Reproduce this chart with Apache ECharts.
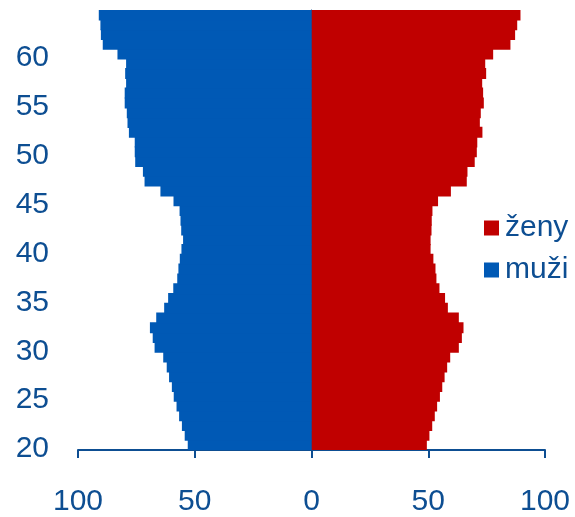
<!DOCTYPE html>
<html><head><meta charset="utf-8">
<script src="https://cdn.jsdelivr.net/npm/echarts@6/dist/echarts.min.js"></script>
<style>html,body{margin:0;padding:0;background:#fff}#c{width:575px;height:517px}</style>
</head><body><div id="c"></div>
<script>
var ages = [20,21,22,23,24,25,26,27,28,29,30,31,32,33,34,35,36,37,38,39,40,41,42,43,44,45,46,47,48,49,50,51,52,53,54,55,56,57,58,59,60,61,62,63,64];
var muzi = [53.0,54.3,55.5,56.7,57.8,59.0,59.8,61.0,62.0,63.5,67.2,68.0,69.2,66.5,63.1,61.4,59.2,57.5,57.0,56.4,55.7,55.0,55.8,56.1,56.5,59.1,64.7,71.5,72.2,75.5,75.7,75.7,78.2,78.8,79.1,80.0,80.0,79.4,79.8,79.4,83.1,89.4,90.2,90.4,91.1];
var zeny = [49.4,50.5,51.7,52.8,53.8,55.0,56.0,57.0,58.1,59.4,63.1,64.4,65.1,63.1,58.4,57.2,54.8,53.5,53.1,52.2,51.0,51.0,51.4,51.5,51.8,54.2,59.7,66.5,66.8,69.9,70.8,71.0,73.2,72.1,72.5,73.8,73.5,73.1,74.8,74.4,77.8,85.2,87.2,88.1,89.5];
var seriesNames = ['ženy','muži'];
var xTicks = {min:-100, max:100, step:50};

var txt = '#0d4e92';
var red = '#c00000', blue = '#0059b5';
var chart = echarts.init(document.getElementById('c'), null, {renderer:'canvas'});
chart.setOption({
  animation:false,
  textStyle:{fontFamily:'Liberation Sans, Arial, sans-serif'},
  grid:{left:78, right:30, top:10, bottom:60, containLabel:false},
  legend:{
    data:seriesNames, orient:'vertical', left:479, top:208,
    itemWidth:15, itemHeight:15, itemGap:12, icon:'rect',
    textStyle:{color:txt, fontSize:30, padding:[0,0,0,1], fontFamily:'Liberation Sans, Arial, sans-serif'}
  },
  xAxis:{
    type:'value', min:xTicks.min, max:xTicks.max, interval:xTicks.step,
    splitLine:{show:false},
    axisLine:{show:true, lineStyle:{color:txt, width:2}},
    axisTick:{show:true, length:8, lineStyle:{color:txt, width:2}},
    axisLabel:{color:txt, fontSize:30, margin:37, formatter:function(v){return Math.abs(v);}}
  },
  yAxis:{
    type:'category', data:ages,
    axisLine:{show:true, onZero:true, lineStyle:{color:txt, width:1}},
    axisTick:{show:false},
    axisLabel:{color:txt, fontSize:30, margin:29, verticalAlign:'top', lineHeight:8,
      interval:function(i,v){return Number(v)%5===0;}}
  },
  series:[
    {name:'ženy', type:'bar', stack:'t', data:zeny, barWidth:11,
     itemStyle:{color:red}},
    {name:'muži', type:'bar', stack:'t', data:muzi.map(function(v){return -v;}), barWidth:11,
     itemStyle:{color:blue}}
  ]
});
</script></body></html>
